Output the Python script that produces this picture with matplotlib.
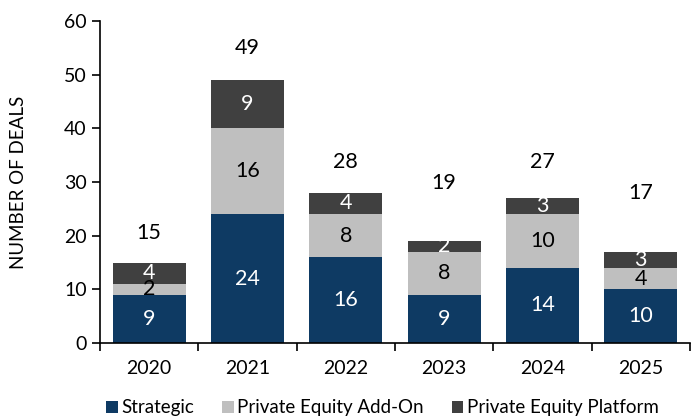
import matplotlib
matplotlib.use("Agg")
import matplotlib.pyplot as plt
import numpy as np

years = ["2020", "2021", "2022", "2023", "2024", "2025"]
strategic = [9, 24, 16, 9, 14, 10]
pe_addon = [2, 16, 8, 8, 10, 4]
pe_platform = [4, 9, 4, 2, 3, 3]
series_names = ["Strategic", "Private Equity Add-On", "Private Equity Platform"]

colors = ["#0E3A63", "#BFBFBF", "#404040"]
text_colors = ["white", "black", "white"]
total_offsets = [5.5, 6, 5.7, 10.8, 6.7, 11]

plt.rcParams['font.family'] = ['Lato', 'DejaVu Sans']

fig = plt.figure(figsize=(6.92, 4.17), dpi=100)
ax = fig.add_axes([100/692, 1-343/417, 590/692, 322/417])

x = np.arange(len(years))
bottom = np.zeros(len(years))
handles = []
for vals, c, tc, name in zip([strategic, pe_addon, pe_platform], colors, text_colors, series_names):
    vals = np.array(vals, dtype=float)
    b = ax.bar(x, vals, bottom=bottom, width=0.74, color=c, label=name)
    handles.append(b)
    for xi, v, bt in zip(x, vals, bottom):
        ax.text(xi, bt + v/2, f"{int(v)}", ha="center", va="center", color=tc, fontsize=15.5)
    bottom += vals

for xi, t, off in zip(x, bottom, total_offsets):
    ax.text(xi, t + off, f"{int(t)}", ha="center", va="center", color="black", fontsize=15.5)

ax.set_xlim(-0.5, len(years) - 0.5)
ax.set_ylim(0, 60)
ax.set_yticks(range(0, 61, 10))
ax.set_xticks(x)
ax.set_xticklabels(years)
ax.set_xticks(np.arange(-0.5, len(years)), minor=True)
ax.tick_params(axis="x", which="major", length=0, labelsize=14, pad=12)
ax.tick_params(axis="x", which="minor", length=6, width=1.2, direction="out")
ax.tick_params(axis="y", length=6, width=1.2, direction="out", labelsize=14)
for s in ["top", "right"]:
    ax.spines[s].set_visible(False)
ax.spines["left"].set_linewidth(1.2)
ax.spines["bottom"].set_linewidth(1.2)
ax.set_ylabel("NUMBER OF DEALS", fontsize=13.5, labelpad=27)

fig.legend(handles=handles, labels=series_names, loc="center", bbox_to_anchor=(0.553, 0.022),
           ncol=3, frameon=False, fontsize=13.5, handlelength=0.6, handleheight=0.6,
           handletextpad=0.2, columnspacing=1.5)

fig.savefig("out.png", dpi=100)
